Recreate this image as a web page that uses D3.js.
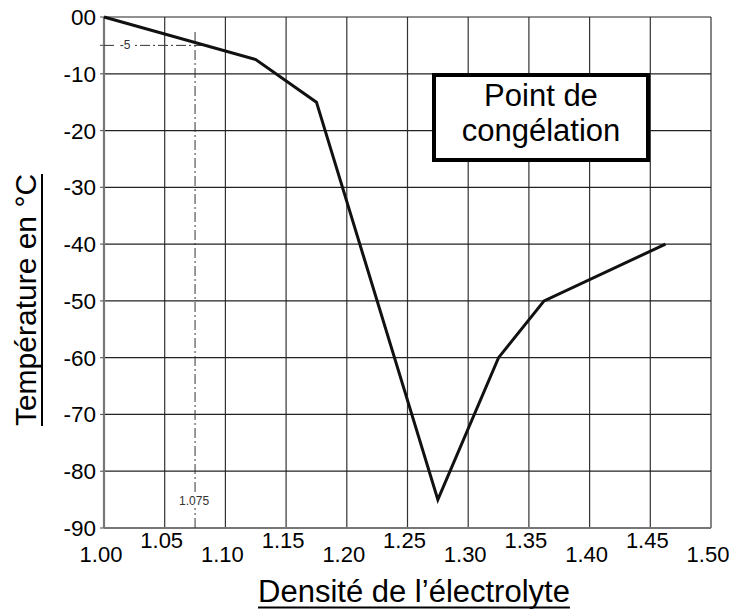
<!DOCTYPE html>
<html>
<head>
<meta charset="utf-8">
<script src="https://cdn.jsdelivr.net/npm/d3@7"></script>
<style>
  body { margin: 0; background: #fff; }
  svg { display: block; font-family: "Liberation Sans", Arial, sans-serif; }
</style>
</head>
<body>
<div id="chart"></div>
<script>
// values
var densite     = [1.00, 1.125, 1.175, 1.275, 1.325, 1.3625, 1.4625];
var temperature = [0, -7.5, -15, -85, -60, -50, -40];

var xTicks      = [1.00, 1.05, 1.10, 1.15, 1.20, 1.25, 1.30, 1.35, 1.40, 1.45, 1.50];
var xTickLabels = ["1.00", "1.05", "1.10", "1.15", "1.20", "1.25", "1.30", "1.35", "1.40", "1.45", "1.50"];
var yTicks      = [0, -10, -20, -30, -40, -50, -60, -70, -80, -90];
var yTickLabels = ["00", "-10", "-20", "-30", "-40", "-50", "-60", "-70", "-80", "-90"];

var refDensite = 1.075, refTemp = -5;

var width = 748, height = 611;
var m = {left: 104, right: 711, top: 17, bottom: 528};

var svg = d3.select("#chart").append("svg")
    .attr("width", width)
    .attr("height", height);

var x = d3.scaleLinear().domain([1.00, 1.50]).range([m.left, m.right]);
var y = d3.scaleLinear().domain([0, -90]).range([m.top, m.bottom]);

// grid
var grid = svg.append("g").attr("class", "grid");
grid.selectAll("line.v")
  .data(xTicks)
  .enter().append("line")
    .attr("class", "v")
    .attr("x1", function(d) { return x(d); })
    .attr("x2", function(d) { return x(d); })
    .attr("y1", m.top)
    .attr("y2", m.bottom)
    .attr("stroke", "#333")
    .attr("stroke-width", 1.2);
grid.selectAll("line.h")
  .data(yTicks)
  .enter().append("line")
    .attr("class", "h")
    .attr("x1", m.left)
    .attr("x2", m.right)
    .attr("y1", function(d) { return y(d); })
    .attr("y2", function(d) { return y(d); })
    .attr("stroke", "#222")
    .attr("stroke-width", 1.2);

// frame
svg.append("line")
  .attr("x1", m.left).attr("x2", m.left)
  .attr("y1", m.top).attr("y2", m.bottom)
  .attr("stroke", "#777").attr("stroke-width", 2.2);
svg.append("line")
  .attr("x1", m.left).attr("x2", m.right)
  .attr("y1", m.bottom).attr("y2", m.bottom)
  .attr("stroke", "#777").attr("stroke-width", 1.8);

// small ticks on the left
svg.selectAll("line.ytick")
  .data(yTicks.concat([refTemp]))
  .enter().append("line")
    .attr("class", "ytick")
    .attr("x1", m.left - 4).attr("x2", m.left)
    .attr("y1", function(d) { return y(d); })
    .attr("y2", function(d) { return y(d); })
    .attr("stroke", "#666").attr("stroke-width", 1.2);

// tick labels
svg.selectAll("text.ylab")
  .data(yTicks)
  .enter().append("text")
    .attr("class", "ylab")
    .attr("x", 96)
    .attr("y", function(d) { return y(d) + 8; })
    .attr("text-anchor", "end")
    .attr("font-size", 22.5)
    .text(function(d, i) { return yTickLabels[i]; });

svg.selectAll("text.xlab")
  .data(xTicks)
  .enter().append("text")
    .attr("class", "xlab")
    .attr("x", function(d) { return x(d) - 3; })
    .attr("y", function(d, i) { return i % 2 ? 548 : 562; })
    .attr("text-anchor", "middle")
    .attr("font-size", 22)
    .text(function(d, i) { return xTickLabels[i]; });

// dash-dot reference lines
svg.append("line")
  .attr("x1", m.left).attr("x2", x(refDensite) + 15)
  .attr("y1", y(refTemp)).attr("y2", y(refTemp))
  .attr("stroke", "#333").attr("stroke-width", 1)
  .attr("stroke-dasharray", "10,3,2,3");
svg.append("line")
  .attr("x1", x(refDensite)).attr("x2", x(refDensite))
  .attr("y1", 32).attr("y2", m.bottom)
  .attr("stroke", "#333").attr("stroke-width", 1)
  .attr("stroke-dasharray", "10,3,2,3");

svg.append("rect")
  .attr("x", 117).attr("y", y(refTemp) - 7)
  .attr("width", 16).attr("height", 13)
  .attr("fill", "#fff");
svg.append("text")
  .attr("x", 125).attr("y", y(refTemp) + 4)
  .attr("text-anchor", "middle")
  .attr("font-size", 12)
  .attr("fill", "#333")
  .text("-5");

svg.append("rect")
  .attr("x", x(refDensite) - 17).attr("y", 494)
  .attr("width", 32).attr("height", 14)
  .attr("fill", "#fff");
svg.append("text")
  .attr("x", x(refDensite) - 1).attr("y", 505)
  .attr("text-anchor", "middle")
  .attr("font-size", 12)
  .attr("fill", "#333")
  .text("1.075");

// the curve
var pts = densite.map(function(d, i) { return [d, temperature[i]]; });
var line = d3.line()
  .x(function(d) { return x(d[0]); })
  .y(function(d) { return y(d[1]); });

svg.append("path")
  .datum(pts)
  .attr("d", line)
  .attr("fill", "none")
  .attr("stroke", "#111")
  .attr("stroke-width", 3)
  .attr("stroke-linejoin", "miter");

// label box
svg.append("rect")
  .attr("x", 434).attr("y", 75)
  .attr("width", 214).attr("height", 85)
  .attr("fill", "#fff")
  .attr("stroke", "#000")
  .attr("stroke-width", 4);
svg.append("text")
  .attr("x", 541).attr("y", 106)
  .attr("text-anchor", "middle")
  .attr("font-size", 31)
  .text("Point de");
svg.append("text")
  .attr("x", 541).attr("y", 141)
  .attr("text-anchor", "middle")
  .attr("font-size", 31)
  .text("congélation");

// axis titles, underlined
var xt = svg.append("text")
  .attr("x", 414).attr("y", 602)
  .attr("text-anchor", "middle")
  .attr("font-size", 31)
  .text("Densité de l’électrolyte");
var xw = xt.node().getComputedTextLength();
svg.append("line")
  .attr("x1", 414 - xw / 2).attr("x2", 414 + xw / 2)
  .attr("y1", 607.5).attr("y2", 607.5)
  .attr("stroke", "#000").attr("stroke-width", 2);

var yt = svg.append("text")
  .attr("transform", "translate(36,300) rotate(-90)")
  .attr("text-anchor", "middle")
  .attr("font-size", 30)
  .text("Température en °C");
var yw = yt.node().getComputedTextLength();
svg.append("line")
  .attr("x1", 42).attr("x2", 42)
  .attr("y1", 300 - yw / 2).attr("y2", 300 + yw / 2)
  .attr("stroke", "#000").attr("stroke-width", 2);
</script>
</body>
</html>
